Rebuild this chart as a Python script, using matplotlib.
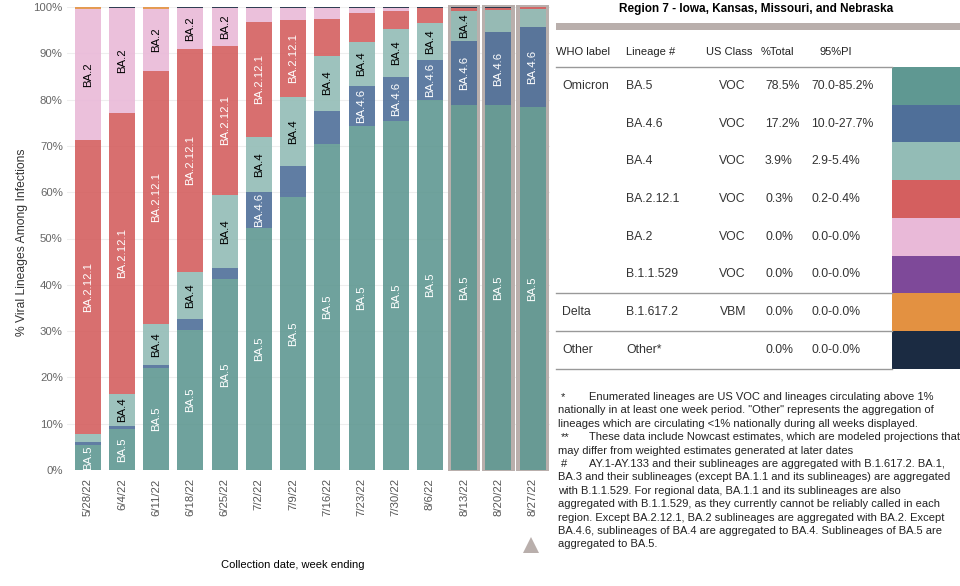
import matplotlib
matplotlib.use("Agg")
import matplotlib.pyplot as plt
from matplotlib.patches import Rectangle, Polygon
import numpy as np

plt.rcParams['font.family'] = ['Liberation Sans', 'DejaVu Sans']

# ---------------- data ----------------
weeks = ["5/28/22", "6/4/22", "6/11/22", "6/18/22", "6/25/22", "7/2/22", "7/9/22",
         "7/16/22", "7/23/22", "7/30/22", "8/6/22", "8/13/22", "8/20/22", "8/27/22"]
nowcast = [False] * 11 + [True] * 3

ba5 = [5.4, 8.8, 22.1, 30.2, 41.2, 52.2, 59.0, 70.4, 74.4, 75.4, 79.9, 78.8, 78.8, 78.5]
ba46 = [0.6, 0.7, 0.6, 2.4, 2.4, 7.9, 6.7, 7.2, 8.5, 9.5, 8.7, 13.9, 15.7, 17.2]
ba4 = [1.8, 6.9, 8.9, 10.2, 15.9, 11.9, 14.8, 11.9, 9.6, 10.4, 8.0, 6.4, 4.9, 3.9]
ba2121 = [63.5, 60.8, 54.6, 48.2, 32.1, 24.8, 16.8, 7.9, 6.1, 3.9, 3.1, 0.6, 0.4, 0.3]
ba2 = [28.3, 22.6, 13.4, 8.8, 8.2, 3.0, 2.5, 2.4, 1.2, 0.6, 0.1, 0.0, 0.0, 0.0]
b11529 = [0.0] * 14
delta = [0.3, 0.0, 0.3, 0.0, 0.0, 0.0, 0.0, 0.0, 0.0, 0.0, 0.0, 0.0, 0.0, 0.0]
other = [0.1, 0.2, 0.1, 0.2, 0.2, 0.2, 0.2, 0.2, 0.2, 0.2, 0.2, 0.3, 0.2, 0.1]

series_names = ["BA.5", "BA.4.6", "BA.4", "BA.2.12.1", "BA.2", "B.1.1.529", "B.1.617.2", "Other"]
series_vals = [ba5, ba46, ba4, ba2121, ba2, b11529, delta, other]
series_colors = ["#5f9892", "#4f6f99", "#93bcb6", "#d45f5f", "#e9b9d8", "#7e4999", "#e39141", "#1b2b42"]
label_colors = ["white", "white", "black", "white", "black", "white", "white", "white"]

# table data
tbl_who = ["Omicron", "", "", "", "", "", "Delta", "Other"]
tbl_lineage = ["BA.5", "BA.4.6", "BA.4", "BA.2.12.1", "BA.2", "B.1.1.529", "B.1.617.2", "Other*"]
tbl_class = ["VOC", "VOC", "VOC", "VOC", "VOC", "VOC", "VBM", ""]
tbl_total = ["78.5%", "17.2%", "3.9%", "0.3%", "0.0%", "0.0%", "0.0%", "0.0%"]
tbl_pi = ["70.0-85.2%", "10.0-27.7%", "2.9-5.4%", "0.2-0.4%", "0.0-0.0%", "0.0-0.0%",
          "0.0-0.0%", "0.0-0.0%"]

title = "Region 7 - Iowa, Kansas, Missouri, and Nebraska"
footnote_lines = [
    ("*", "Enumerated lineages are US VOC and lineages circulating above 1%"),
    ("", "nationally in at least one week period. \"Other\" represents the aggregation of"),
    ("", "lineages which are circulating <1% nationally during all weeks displayed."),
    ("**", "These data include Nowcast estimates, which are modeled projections that"),
    ("", "may differ from weighted estimates generated at later dates"),
    ("#", "AY.1-AY.133 and their sublineages are aggregated with B.1.617.2. BA.1,"),
    ("", "BA.3 and their sublineages (except BA.1.1 and its sublineages) are aggregated"),
    ("", "with B.1.1.529. For regional data, BA.1.1 and its sublineages are also"),
    ("", "aggregated with B.1.1.529, as they currently cannot be reliably called in each"),
    ("", "region. Except BA.2.12.1, BA.2 sublineages are aggregated with BA.2. Except"),
    ("", "BA.4.6, sublineages of BA.4 are aggregated to BA.4. Sublineages of BA.5 are"),
    ("", "aggregated to BA.5."),
]

# ---------------- figure ----------------
W, H = 960, 586
fig = plt.figure(figsize=(9.6, 5.86), dpi=100)


def fx(x):
    return x / W


def fy(y):
    return 1 - y / H


ax_top, ax_bot = 7, 470
ax = fig.add_axes([fx(67), fy(ax_bot), (550 - 67) / W, (ax_bot - ax_top) / H])
x = np.arange(len(weeks))
ax.set_xlim(-0.61, len(weeks) - 1 + 0.51)
ax.set_ylim(0, 100)

# nowcast highlight boxes
for i, nc in enumerate(nowcast):
    if nc:
        ax.add_patch(Rectangle((i - 0.475, -0.3), 0.95, 100.8, facecolor="#b9afac",
                               edgecolor="none", zorder=1, clip_on=False))

bottoms = np.zeros(len(weeks))
segments = []
for name, vals, col, lc in zip(series_names, series_vals, series_colors, label_colors):
    v = np.array(vals)
    ax.bar(x, v, bottom=bottoms, width=0.76, color=col, alpha=0.9, linewidth=0, zorder=2)
    for i in range(len(weeks)):
        if v[i] > 0:
            segments.append((i, bottoms[i], v[i], name, lc))
    bottoms = bottoms + v

ax.set_yticks(np.arange(0, 101, 10))
ax.set_yticklabels([f"{t}%" for t in range(0, 101, 10)])
ax.set_xticks(x)
ax.set_xticklabels(weeks, rotation=90)
ax.tick_params(axis="both", length=0, labelsize=8.2, labelcolor="#666666")
ax.tick_params(axis="x", pad=6, labelcolor="#555555")
ax.tick_params(axis="y", pad=3)
for s in ax.spines.values():
    s.set_visible(False)
ax.yaxis.grid(True, color="#eeeeee", lw=0.8, zorder=0)
ax.set_axisbelow(True)

fig.text(fx(22), fy(242), "% Viral Lineages Among Infections", rotation=90,
         ha="center", va="center", fontsize=8.7, color="#333333")
fig.text(fx(293), fy(565), "Collection date, week ending", ha="center", va="center",
         fontsize=8, color="black")

# segment labels (shown only when the label fits in the segment; bottom always)
fig.canvas.draw()
renderer = fig.canvas.get_renderer()
px_per_pct = (ax_bot - ax_top) / 100.0
for (i, b, v, name, lc) in segments:
    t = ax.text(i, b + v / 2, name, rotation=90, ha="center", va="center",
                fontsize=8.2, color=lc, zorder=3)
    ext = t.get_window_extent(renderer)
    if b > 0 and v * px_per_pct < ext.height + 2:
        t.remove()

# ---------------- right panel ----------------
fig.text(fx(756), fy(9), title, ha="center", va="center", fontsize=8.5,
         fontweight="bold", color="black")
fig.add_artist(Rectangle((fx(556), fy(29.5)), (W - 556) / W, 6.5 / H,
                         transform=fig.transFigure, facecolor="#b9afac", edgecolor="none"))

hdr_y = 52
fig.text(fx(556), fy(hdr_y), "WHO label", ha="left", va="center", fontsize=8, color="#222222")
fig.text(fx(626), fy(hdr_y), "Lineage #", ha="left", va="center", fontsize=8, color="#222222")
fig.text(fx(706), fy(hdr_y), "US Class", ha="left", va="center", fontsize=8, color="#222222")
fig.text(fx(761), fy(hdr_y), "%Total", ha="left", va="center", fontsize=8, color="#222222")
fig.text(fx(820), fy(hdr_y), "95%PI", ha="left", va="center", fontsize=8, color="#222222")

row_top0, row_h = 67, 37.7


def hline(y):
    fig.add_artist(plt.Line2D([fx(556), fx(892)], [fy(y), fy(y)], transform=fig.transFigure,
                              color="#999999", lw=1.0))


hline(row_top0)
for r in range(len(tbl_lineage)):
    top = row_top0 + row_h * r
    yc = top + row_h / 2
    fig.add_artist(Rectangle((fx(892), fy(top + row_h)), (W - 892) / W, row_h / H,
                             transform=fig.transFigure, facecolor=series_colors[r],
                             edgecolor="none"))
    kw = dict(va="center", fontsize=8.8, color="#333333")
    if tbl_who[r]:
        fig.text(fx(562), fy(yc), tbl_who[r], ha="left", **kw)
    fig.text(fx(626), fy(yc), tbl_lineage[r], ha="left", **kw)
    fig.text(fx(746), fy(yc), tbl_class[r], ha="right", **kw)
    fig.text(fx(765), fy(yc), tbl_total[r], ha="left", **kw)
    fig.text(fx(811), fy(yc), tbl_pi[r], ha="left", **kw)
    if r in (5, 6, 7):
        hline(top + row_h)

# footnotes
fn_y0, fn_dy = 397, 13.4
for k, (mark, line) in enumerate(footnote_lines):
    yy = fy(fn_y0 + k * fn_dy)
    if mark:
        fig.text(fx(561), yy, mark, ha="left", va="center", fontsize=8, color="#222222")
        fig.text(fx(589), yy, line, ha="left", va="center", fontsize=8, color="#222222")
    else:
        fig.text(fx(558), yy, line, ha="left", va="center", fontsize=8, color="#222222")

# nowcast marker triangle
fig.add_artist(Polygon([[fx(523), fy(553)], [fx(539), fy(553)], [fx(531), fy(537)]],
                       closed=True, transform=fig.transFigure, facecolor="#b9afac",
                       edgecolor="none"))

fig.savefig("out.png", dpi=100)
